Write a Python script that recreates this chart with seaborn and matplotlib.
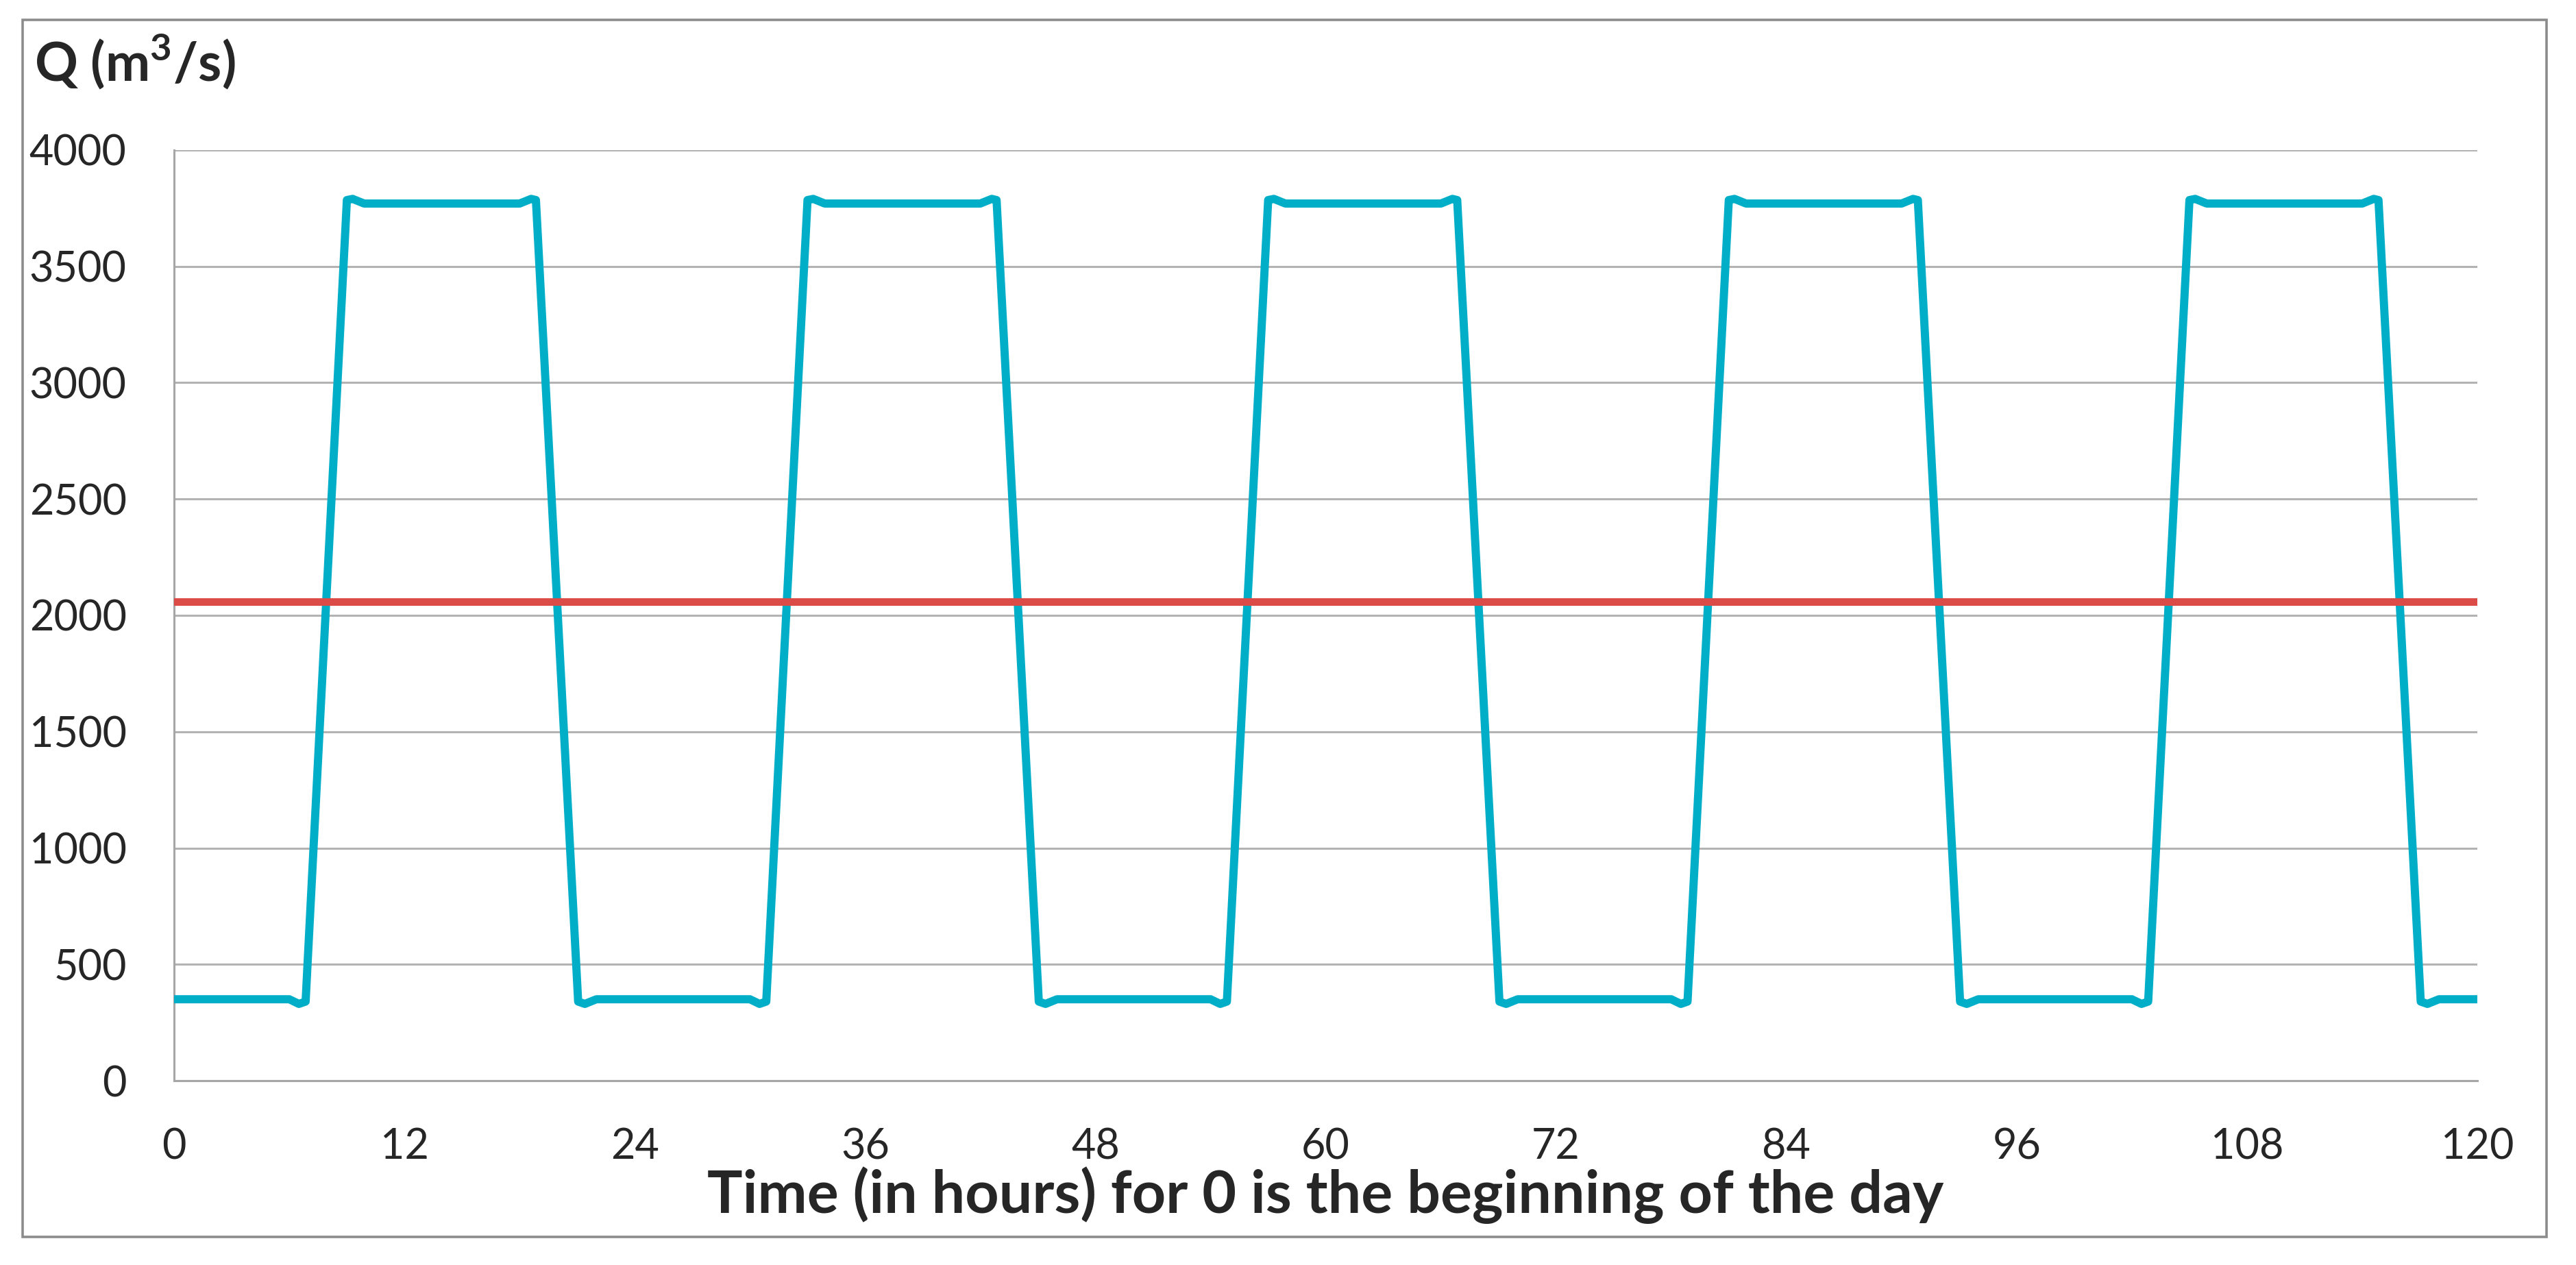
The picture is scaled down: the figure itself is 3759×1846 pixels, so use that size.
import matplotlib
matplotlib.use("Agg")
import matplotlib.pyplot as plt
import matplotlib.patches as patches
import seaborn as sns
import pandas as pd

# Discharge (hours, m3/s)
hours = [0, 6.0, 6.5, 6.85, 9.0, 9.3, 9.9, 18.0, 18.6, 18.85, 21.05, 21.4, 22.0,
         30.0, 30.5, 30.85, 33.0, 33.3, 33.9, 42.0, 42.6, 42.85, 45.05, 45.4, 46.0,
         54.0, 54.5, 54.85, 57.0, 57.3, 57.9, 66.0, 66.6, 66.85, 69.05, 69.4, 70.0,
         78.0, 78.5, 78.85, 81.0, 81.3, 81.9, 90.0, 90.6, 90.85, 93.05, 93.4, 94.0,
         102.0, 102.5, 102.85, 105.0, 105.3, 105.9, 114.0, 114.6, 114.85, 117.05, 117.4, 118.0,
         120]
discharge = [350, 350, 330, 340, 3785, 3790, 3770, 3770, 3790, 3785, 340, 330, 350,
             350, 330, 340, 3785, 3790, 3770, 3770, 3790, 3785, 340, 330, 350,
             350, 330, 340, 3785, 3790, 3770, 3770, 3790, 3785, 340, 330, 350,
             350, 330, 340, 3785, 3790, 3770, 3770, 3790, 3785, 340, 330, 350,
             350, 330, 340, 3785, 3790, 3770, 3770, 3790, 3785, 340, 330, 350,
             350]

# mean discharge
mean_hours = [0, 120]
mean_q = [2060, 2060]

xticks = list(range(0, 121, 12))
yticks = list(range(0, 4001, 500))

sns.set_style("white")
plt.rcParams['font.family'] = ['Lato', 'DejaVu Sans']
plt.rcParams['mathtext.fontset'] = 'custom'
plt.rcParams['mathtext.rm'] = 'Lato'
plt.rcParams['mathtext.bf'] = 'Lato:bold'

fig = plt.figure(figsize=(18.795, 9.23), dpi=200)
ax = fig.add_axes([0.0676, 0.1457, 0.8941, 0.7357])

flow = pd.DataFrame({"Time": hours, "Q": discharge})
mean = pd.DataFrame({"Time": mean_hours, "Q": mean_q})

sns.lineplot(data=flow, x="Time", y="Q", color="#00AEC8", linewidth=4.3,
             ax=ax, sort=False, zorder=3, solid_joinstyle="round")
sns.lineplot(data=mean, x="Time", y="Q", color="#DB4B48", linewidth=4.0,
             ax=ax, zorder=4)

ax.set_xlim(0, 120)
ax.set_ylim(0, 4000)
ax.set_xticks(xticks)
ax.set_yticks(yticks)
ax.grid(axis="y", color="#b3b3b3", linewidth=1.1)
ax.grid(axis="x", visible=False)
ax.set_axisbelow(True)

for side in ["top", "right"]:
    ax.spines[side].set_visible(False)
for side in ["left", "bottom"]:
    ax.spines[side].set_color("#a6a6a6")
    ax.spines[side].set_linewidth(1.1)

ax.tick_params(axis="both", direction="out", length=8.5, width=1.1,
               color="#a6a6a6", labelsize=22, pad=16)
ax.tick_params(axis="y", length=8, pad=17)

ax.set_xlabel("Time (in hours) for 0 is the beginning of the day",
              fontsize=31, fontweight="bold", labelpad=0)
ax.set_ylabel("")

fig.text(0.0133, 0.936, r"Q (m$^{\mathbf{3}}$/s)", fontsize=28,
         fontweight="bold", ha="left", va="baseline")

# outer frame like the spreadsheet chart area
frame = patches.Rectangle((33 / 3759, 1 - 1805 / 1846), (3716 - 33) / 3759,
                          (1805 - 29) / 1846, transform=fig.transFigure,
                          fill=False, edgecolor="#8c8c8c", linewidth=1.3)
fig.patches.append(frame)

fig.savefig("out.png", dpi=200)
